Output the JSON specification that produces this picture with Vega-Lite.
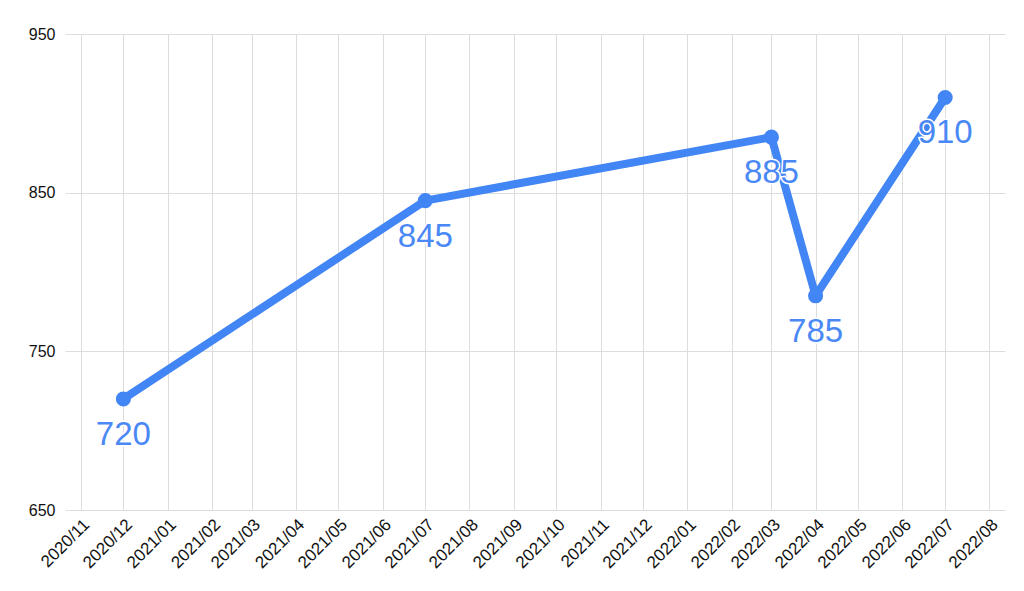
{
  "$schema": "https://vega.github.io/schema/vega-lite/v6.json",
  "autosize": "none",
  "width": 940,
  "height": 476,
  "padding": {"left": 65, "top": 34, "right": 19, "bottom": 81},
  "background": "white",
  "config": {
    "view": {"stroke": null},
    "font": "Liberation Sans"
  },
  "data": {
    "values": [
      {"date": "2020-12-01", "value": 720},
      {"date": "2021-07-01", "value": 845},
      {"date": "2022-03-01", "value": 885},
      {"date": "2022-04-01", "value": 785},
      {"date": "2022-07-01", "value": 910}
    ]
  },
  "encoding": {
    "x": {
      "field": "date",
      "type": "temporal",
      "scale": {
        "type": "utc",
        "domain": [
          {"year": 2020, "month": 10, "date": 21, "utc": true},
          {"year": 2022, "month": 8, "date": 12, "utc": true}
        ]
      },
      "axis": {
        "title": null,
        "labelExpr": "utcFormat(datum.value, '%Y/%m')",
        "tickCount": {"interval": "month", "step": 1},
        "labelAngle": -45,
        "labelAlign": "right",
        "labelBaseline": "top",
        "labelFontSize": 17,
        "labelColor": "#111111",
        "labelPadding": 6,
        "labelOverlap": false,
        "labelFlush": false,
        "ticks": false,
        "domain": false,
        "grid": true,
        "gridColor": "#dddddd",
        "gridWidth": 1
      }
    },
    "y": {
      "field": "value",
      "type": "quantitative",
      "scale": {"domain": [650, 950], "nice": false, "zero": false},
      "axis": {
        "title": null,
        "values": [650, 750, 850, 950],
        "labelFontSize": 16,
        "labelColor": "#111111",
        "labelPadding": 10,
        "ticks": false,
        "domain": false,
        "grid": true,
        "gridColor": "#dddddd",
        "gridWidth": 1
      }
    }
  },
  "layer": [
    {
      "mark": {"type": "line", "color": "#4285F4", "strokeWidth": 8, "strokeCap": "round", "strokeJoin": "round"}
    },
    {
      "mark": {"type": "point", "filled": true, "color": "#4285F4", "size": 227, "opacity": 1}
    },
    {
      "mark": {"type": "text", "fontSize": 33, "dy": 36, "baseline": "middle", "align": "center", "color": "white", "stroke": "white", "strokeWidth": 3},
      "encoding": {"text": {"field": "value", "type": "quantitative"}}
    },
    {
      "mark": {"type": "text", "fontSize": 33, "dy": 36, "baseline": "middle", "align": "center", "color": "#4a89f5"},
      "encoding": {"text": {"field": "value", "type": "quantitative"}}
    }
  ]
}
